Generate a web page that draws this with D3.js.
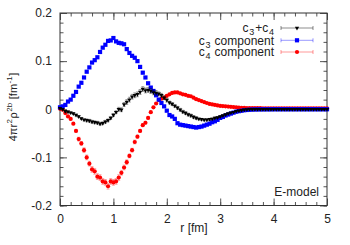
<!DOCTYPE html>
<html><head><meta charset="utf-8">
<script src="https://cdn.jsdelivr.net/npm/d3@7"></script>
<style>body{margin:0;background:#fff}svg{display:block}text{font-family:"Liberation Sans",Arial,sans-serif}</style>
</head><body>
<svg id="c" width="350" height="245"></svg>
<script>
// r grid [fm]
const rValues = [0.00,0.05,0.10,0.15,0.20,0.25,0.30,0.35,0.40,0.45,0.50,0.55,0.60,0.65,0.70,0.75,0.80,0.85,0.90,0.95,
1.00,1.05,1.10,1.15,1.20,1.25,1.30,1.35,1.40,1.45,1.50,1.55,1.60,1.65,1.70,1.75,1.80,1.85,1.90,1.95,
2.00,2.05,2.10,2.15,2.20,2.25,2.30,2.35,2.40,2.45,2.50,2.55,2.60,2.65,2.70,2.75,2.80,2.85,2.90,2.95,
3.00,3.05,3.10,3.15,3.20,3.25,3.30,3.35,3.40,3.45,3.50,3.55,3.60,3.65,3.70,3.75,3.80,3.85,3.90,3.95,
4.00,4.05,4.10,4.15,4.20,4.25,4.30,4.35,4.40,4.45,4.50,4.55,4.60,4.65,4.70,4.75,4.80,4.85,4.90,4.95,5.00];

const sumValues = [0.002,0.000,-0.004,-0.005,-0.007,-0.009,-0.012,-0.015,-0.019,-0.022,-0.023,-0.024,-0.026,-0.027,-0.028,-0.030,-0.029,-0.026,-0.023,-0.018,
-0.012,-0.006,0.000,-0.001,0.010,0.015,0.020,0.026,0.029,0.031,0.036,0.042,0.039,0.040,0.038,0.035,0.034,0.032,0.029,0.024,
0.019,0.014,0.011,0.007,0.003,-0.001,-0.005,-0.008,-0.011,-0.013,-0.016,-0.018,-0.020,-0.021,-0.022,-0.022,-0.021,-0.020,-0.018,-0.017,
-0.015,-0.013,-0.011,-0.009,-0.007,-0.006,-0.004,-0.003,-0.002,-0.001,-0.0005,0.000,0.000,0.000,0.000,0.000,0.000,0.000,0.000,0.000,
0.000,0.000,0.000,0.000,0.000,0.000,0.000,0.000,0.000,0.000,0.000,0.000,0.000,0.000,0.000,0.000,0.000,0.000,0.000,0.000,0.000];
const sumErrors = [0.001,0.001,0.002,0.002,0.002,0.002,0.002,0.002,0.002,0.002,0.003,0.003,0.003,0.003,0.003,0.003,0.003,0.003,0.003,0.003,
0.003,0.003,0.004,0.004,0.004,0.005,0.005,0.005,0.005,0.005,0.005,0.005,0.005,0.005,0.005,0.005,0.005,0.004,0.004,0.004,
0.004,0.003,0.003,0.003,0.003,0.003,0.003,0.003,0.003,0.003,0.003,0.003,0.002,0.002,0.002,0.002,0.002,0.002,0.002,0.002,
0.002,0.002,0.002,0.001,0.001,0.001,0.001,0.001,0.001,0.001,0.001,0.001,0.001,0.001,0.001,0.001,0.001,0.001,0.001,0.001,
0.001,0.001,0.001,0.001,0.001,0.001,0.001,0.001,0.001,0.001,0.001,0.001,0.001,0.001,0.001,0.001,0.001,0.001,0.001,0.001,0.001];

const c3Values = [0.004,0.006,0.009,0.016,0.020,0.028,0.036,0.047,0.055,0.066,0.078,0.087,0.097,0.102,0.108,0.119,0.128,0.134,0.142,0.143,
0.148,0.141,0.138,0.137,0.135,0.125,0.117,0.111,0.107,0.100,0.088,0.076,0.066,0.054,0.045,0.038,0.029,0.020,0.013,0.006,
-0.003,-0.012,-0.015,-0.020,-0.029,-0.032,-0.033,-0.034,-0.035,-0.036,-0.037,-0.038,-0.037,-0.036,-0.034,-0.032,-0.030,-0.027,-0.025,-0.022,
-0.018,-0.016,-0.013,-0.011,-0.009,-0.007,-0.005,-0.004,-0.003,-0.002,-0.0015,-0.001,-0.0006,-0.0004,-0.0003,-0.0002,-0.0002,-0.0001,-0.0001,-0.0001,
0.000,0.000,0.000,0.000,0.000,0.000,0.000,0.000,0.000,0.000,0.000,0.000,0.000,0.000,0.000,0.000,0.000,0.000,0.000,0.000,0.000];
const c3Errors = [0.001,0.001,0.001,0.001,0.001,0.001,0.001,0.001,0.002,0.002,0.002,0.002,0.002,0.002,0.002,0.002,0.002,0.002,0.002,0.002,
0.002,0.002,0.002,0.002,0.002,0.002,0.002,0.002,0.002,0.002,0.002,0.002,0.002,0.001,0.001,0.001,0.001,0.001,0.001,0.001,
0.001,0.001,0.001,0.001,0.001,0.001,0.001,0.001,0.001,0.001,0.001,0.001,0.001,0.001,0.001,0.001,0.001,0.001,0.001,0.001,
0.001,0.001,0.001,0.001,0.001,0.001,0.001,0.001,0.001,0.001,0.001,0.001,0.001,0.001,0.001,0.001,0.001,0.001,0.001,0.001,
0.001,0.001,0.001,0.001,0.001,0.001,0.001,0.001,0.001,0.001,0.001,0.001,0.001,0.001,0.001,0.001,0.001,0.001,0.001,0.001,0.001];

const c4Values = [0.001,-0.001,-0.008,-0.015,-0.020,-0.030,-0.045,-0.062,-0.071,-0.085,-0.100,-0.113,-0.125,-0.129,-0.140,-0.142,-0.150,-0.152,-0.160,-0.150,
-0.152,-0.150,-0.142,-0.132,-0.121,-0.110,-0.097,-0.085,-0.068,-0.057,-0.045,-0.033,-0.028,-0.018,-0.006,0.004,0.012,0.019,0.022,0.024,
0.028,0.031,0.034,0.035,0.035,0.033,0.031,0.030,0.028,0.027,0.024,0.021,0.019,0.017,0.015,0.013,0.011,0.010,0.009,0.008,
0.007,0.0065,0.006,0.0055,0.005,0.0045,0.004,0.0035,0.003,0.0028,0.0026,0.0025,0.0024,0.0023,0.0022,0.0022,0.0021,0.0021,0.0021,0.0020,
0.0020,0.0020,0.0020,0.0020,0.0020,0.0020,0.0020,0.0020,0.0020,0.0020,0.0020,0.0020,0.0020,0.0020,0.0020,0.0020,0.0020,0.0020,0.0020,0.0020,0.0020];
const c4Errors = [0.001,0.001,0.002,0.002,0.002,0.002,0.003,0.004,0.004,0.005,0.005,0.005,0.006,0.006,0.006,0.006,0.006,0.006,0.006,0.006,
0.006,0.006,0.006,0.005,0.005,0.005,0.004,0.004,0.004,0.003,0.003,0.003,0.003,0.003,0.002,0.002,0.002,0.002,0.002,0.002,
0.002,0.002,0.002,0.002,0.002,0.002,0.002,0.002,0.002,0.002,0.002,0.002,0.001,0.001,0.001,0.001,0.001,0.001,0.001,0.001,
0.001,0.001,0.001,0.001,0.001,0.001,0.001,0.001,0.001,0.001,0.001,0.001,0.001,0.001,0.001,0.001,0.001,0.001,0.001,0.001,
0.001,0.001,0.001,0.001,0.001,0.001,0.001,0.001,0.001,0.001,0.001,0.001,0.001,0.001,0.001,0.001,0.001,0.001,0.001,0.001,0.001];

const xTicks = [0,1,2,3,4,5];
const xTickLabels = ["0","1","2","3","4","5"];
const yTicks = [-0.2,-0.1,0,0.1,0.2];
const yTickLabels = ["-0.2","-0.1","0","0.1","0.2"];
const legendLabels = [["c","3","+c","4"],["c","3"," component"],["c","4"," component"]];

const svg = d3.select("#c");
const L=60, R=327, T=13, B=205.5;
const x = d3.scaleLinear().domain([0,5]).range([L,R]);
const y = d3.scaleLinear().domain([-0.2,0.2]).range([B,T]);

const xMinor = d3.range(0,5.0001,0.2);
const yMinor = d3.range(-0.2,0.2001,0.02);
const axCol="#555";

function styleAx(g){ g.select(".domain").remove(); g.selectAll("line").attr("stroke",axCol); g.selectAll("text").attr("font-size",12).attr("fill","#222"); }

svg.append("g").attr("transform",`translate(0,${B})`).call(d3.axisBottom(x).tickValues(xMinor).tickSize(-3.5).tickFormat("")).call(styleAx);
svg.append("g").attr("transform",`translate(0,${T})`).call(d3.axisTop(x).tickValues(xMinor).tickSize(-3.5).tickFormat("")).call(styleAx);
svg.append("g").attr("transform",`translate(${L},0)`).call(d3.axisLeft(y).tickValues(yMinor).tickSize(-3.5).tickFormat("")).call(styleAx);
svg.append("g").attr("transform",`translate(${R},0)`).call(d3.axisRight(y).tickValues(yMinor).tickSize(-3.5).tickFormat("")).call(styleAx);
svg.append("g").attr("transform",`translate(0,${B})`).call(d3.axisBottom(x).tickValues(xTicks).tickSize(-7).tickPadding(9).tickFormat((d,i)=>xTickLabels[i])).call(styleAx);
svg.append("g").attr("transform",`translate(0,${T})`).call(d3.axisTop(x).tickValues(xTicks).tickSize(-7).tickFormat("")).call(styleAx);
svg.append("g").attr("transform",`translate(${L},0)`).call(d3.axisLeft(y).tickValues(yTicks).tickSize(-7).tickPadding(8).tickFormat((d,i)=>yTickLabels[i])).call(styleAx);
svg.append("g").attr("transform",`translate(${R},0)`).call(d3.axisRight(y).tickValues(yTicks).tickSize(-7).tickFormat("")).call(styleAx);

svg.append("rect").attr("x",L).attr("y",T).attr("width",R-L).attr("height",B-T).attr("fill","none").attr("stroke","#333").attr("stroke-width",1);

const series = [
  {vals:sumValues, errs:sumErrors, col:"#000", ecol:"rgba(0,0,0,0.45)", shape:"tri"},
  {vals:c3Values, errs:c3Errors, col:"#0000ff", ecol:"rgba(0,0,255,0.4)", shape:"sq"},
  {vals:c4Values, errs:c4Errors, col:"#ff0000", ecol:"rgba(255,0,0,0.4)", shape:"circ"}
];
const triSym = d3.symbol().type(d3.symbolTriangle).size(8);
function marker(g, shape, col){
  if(shape==="sq") g.append("rect").attr("x",-2.1).attr("y",-2.1).attr("width",4.2).attr("height",4.2).attr("fill",col);
  else if(shape==="circ") g.append("circle").attr("r",2.1).attr("fill",col);
  else g.append("path").attr("d",triSym).attr("transform","rotate(180)").attr("fill",col);
}
const plot = svg.append("g");
[series[2],series[1],series[0]].forEach(s=>{
  const data = rValues.map((r,i)=>({r, v:s.vals[i], e:s.errs[i]}));
  const eg = plot.append("g").attr("stroke",s.ecol).attr("stroke-width",0.8);
  data.forEach(d=>{
    const px=x(d.r), y1=y(d.v+d.e), y2=y(d.v-d.e);
    eg.append("line").attr("x1",px).attr("x2",px).attr("y1",y1).attr("y2",y2);
    eg.append("line").attr("x1",px-1.5).attr("x2",px+1.5).attr("y1",y1).attr("y2",y1);
    eg.append("line").attr("x1",px-1.5).attr("x2",px+1.5).attr("y1",y2).attr("y2",y2);
  });
  data.forEach(d=>{ marker(plot.append("g").attr("transform",`translate(${x(d.r)},${y(d.v)})`), s.shape, s.col); });
});

// legend
const legendY = [28,40.3,52];
legendLabels.forEach((parts,k)=>{
  const t = svg.append("text").attr("x",274).attr("y",legendY[k]+4.2).attr("text-anchor","end").attr("font-size",12).attr("fill","#222");
  parts.forEach((p,j)=>{
    const sp = t.append("tspan").text(p);
    if(j>0) sp.attr("dx",0.8);
    if(j%2===1) sp.attr("font-size",9).attr("baseline-shift","-3");
  });
  const s = series[k];
  const g = svg.append("g").attr("stroke",s.ecol).attr("stroke-width",1);
  g.append("line").attr("x1",281).attr("x2",313).attr("y1",legendY[k]).attr("y2",legendY[k]);
  g.append("line").attr("x1",281).attr("x2",281).attr("y1",legendY[k]-2).attr("y2",legendY[k]+2);
  g.append("line").attr("x1",313).attr("x2",313).attr("y1",legendY[k]-2).attr("y2",legendY[k]+2);
  marker(svg.append("g").attr("transform",`translate(297,${legendY[k]})`), s.shape, s.col);
});

// axis labels
svg.append("text").attr("x",194).attr("y",232).attr("text-anchor","middle").attr("font-size",12).attr("fill","#222").text("r [fm]");
const yl = svg.append("text").attr("transform","translate(17,107) rotate(-90)").attr("text-anchor","middle").attr("font-size",11).attr("fill","#222");
[["4πr",0],["2",1],["ρ",0],["2b",1],[" [fm",0],["-1",1],["]",0]].forEach((p,j)=>{
  const sp = yl.append("tspan").text(p[0]);
  if(j>0) sp.attr("dx",0.5);
  if(p[1]) sp.attr("font-size",8).attr("baseline-shift","5");
});

svg.append("text").attr("x",319).attr("y",196).attr("text-anchor","end").attr("font-size",12).attr("fill","#222").text("E-model");
</script>
</body></html>
